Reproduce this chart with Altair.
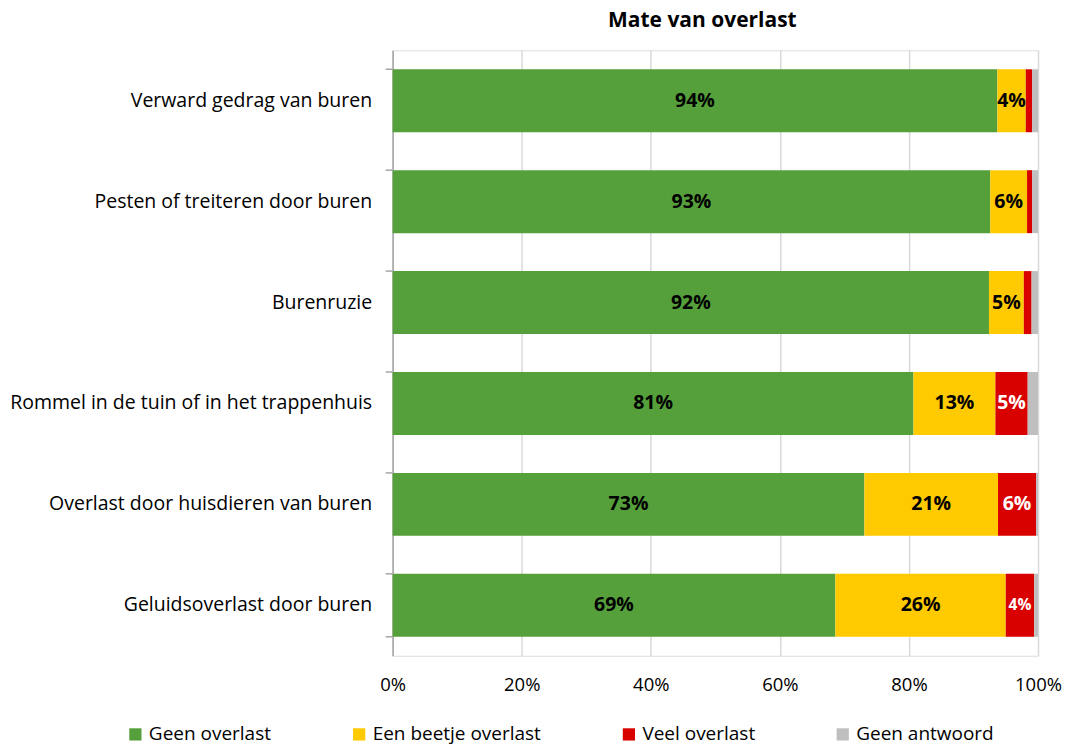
import altair as alt
import pandas as pd

categories = [
    "Verward gedrag van buren",
    "Pesten of treiteren door buren",
    "Burenruzie",
    "Rommel in de tuin of in het trappenhuis",
    "Overlast door huisdieren van buren",
    "Geluidsoverlast door buren",
]
series = ["Geen overlast", "Een beetje overlast", "Veel overlast", "Geen antwoord"]
colors = ["#55A03B", "#FFCA00", "#D90000", "#BFBFBF"]

geen_overlast = [93.7, 92.6, 92.4, 80.7, 73.1, 68.6]
beetje_overlast = [4.4, 5.7, 5.4, 12.7, 20.7, 26.4]
veel_overlast = [1.0, 0.8, 1.2, 5.0, 5.9, 4.4]
geen_antwoord = [0.9, 0.9, 1.0, 1.6, 0.3, 0.6]

x_ticks = [0, 20, 40, 60, 80, 100]

rows = []
for s_i, (s, vals) in enumerate(zip(series, [geen_overlast, beetje_overlast, veel_overlast, geen_antwoord])):
    for c, v in zip(categories, vals):
        rows.append({"cat": c, "series": s, "value": v, "order": s_i})
df = pd.DataFrame(rows)

FONT = "Open Sans"

yscale = alt.Scale(domain=categories, paddingInner=0.376, paddingOuter=0.188)

base = alt.Chart(df)

bars = base.mark_bar().encode(
    y=alt.Y("cat:N", sort=categories, scale=yscale,
            axis=alt.Axis(title=None, ticks=False, labelFontSize=19.5, labelColor="#000000",
                          labelPadding=21, labelLimit=500, domainColor="#A6A6A6",
                          domainWidth=1.5, labelFont=FONT)),
    x=alt.X("value:Q", stack="zero",
            scale=alt.Scale(domain=[0, 100], nice=False),
            axis=alt.Axis(title=None, values=x_ticks, labelExpr="datum.value + '%'",
                          ticks=False, domain=False, grid=True, gridColor="#D9D9D9",
                          gridWidth=1.5, labelFontSize=18.5, labelColor="#000000",
                          labelPadding=20, labelFont=FONT, labelFlush=False)),
    color=alt.Color("series:N", scale=alt.Scale(domain=series, range=colors),
                    legend=alt.Legend(title=None, orient="none", direction="horizontal",
                                      legendX=-267, legendY=675, symbolType="square",
                                      symbolSize=150, symbolStrokeWidth=0,
                                      labelFontSize=19, labelColor="#000000",
                                      labelFont=FONT, columnPadding=78, columns=4,
                                      labelLimit=400, padding=0, symbolOpacity=1)),
    order=alt.Order("order:Q", sort="ascending"),
)

labels = base.transform_stack(
    stack="value", groupby=["cat"], sort=[alt.SortField("order", order="ascending")],
    as_=["x0", "x1"]
).transform_calculate(
    mid="(datum.x0 + datum.x1) / 2",
    label="format(round(datum.value), 'd') + '%'",
).transform_filter(
    "datum.value >= 3.5 && datum.series != 'Geen antwoord'"
).mark_text(font=FONT, fontWeight="bold", baseline="middle", align="center").encode(
    y=alt.Y("cat:N", sort=categories, scale=yscale),
    x=alt.X("mid:Q"),
    text="label:N",
    color=alt.condition(alt.datum.series == "Veel overlast", alt.value("white"), alt.value("black")),
    size=alt.condition("datum.series == 'Veel overlast' && datum.value < 5", alt.value(15.5), alt.value(19.5)),
)

tick_df = pd.DataFrame({"cat": categories})
ticks_top = alt.Chart(tick_df).mark_rule(color="#A6A6A6", strokeWidth=1.5).encode(
    y=alt.Y("cat:N", sort=categories, scale=yscale, bandPosition=0),
    x=alt.value(-7), x2=alt.value(0),
)
ticks_bottom = alt.Chart(tick_df).transform_filter(
    alt.datum.cat == categories[-1]
).mark_rule(color="#A6A6A6", strokeWidth=1.5).encode(
    y=alt.Y("cat:N", sort=categories, scale=yscale, bandPosition=1),
    x=alt.value(-7), x2=alt.value(0),
)

chart = alt.layer(bars, labels, ticks_top, ticks_bottom).properties(
    width=646, height=606,
    title=alt.TitleParams("Mate van overlast", fontSize=21, fontWeight="bold",
                          font=FONT, anchor="middle", offset=19, dx=-13, color="#000000"),
    autosize=alt.AutoSizeParams(type="none"),
    padding={"left": 385, "top": 42, "right": 24, "bottom": 91},
).configure_view(stroke=None).configure(background="white")

chart.save("out.html", embed_options={"renderer": "svg", "actions": False})
